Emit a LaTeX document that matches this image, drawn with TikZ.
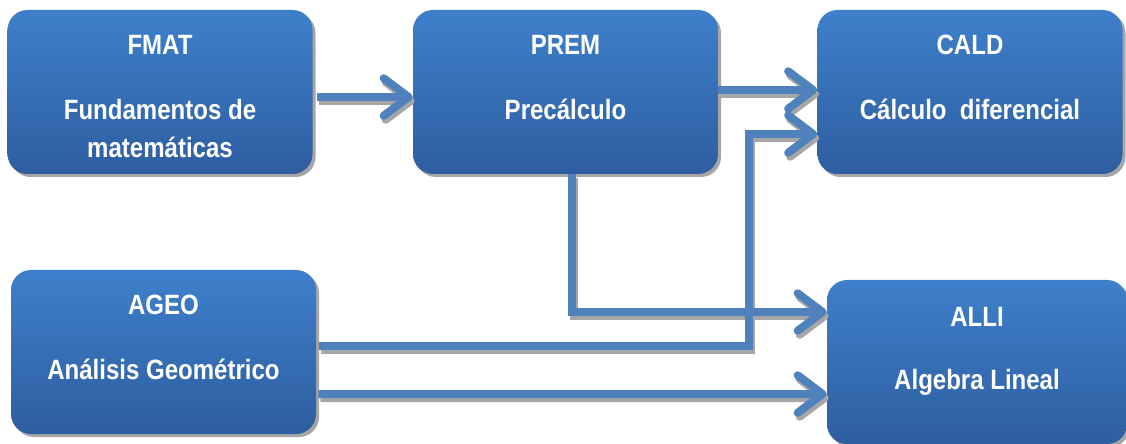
\documentclass[tikz,border=0pt]{standalone}
\usepackage{fontspec}
\setmainfont[FakeStretch=0.86]{Liberation Sans}
\usetikzlibrary{arrows.meta,shadows}
\definecolor{boxtop}{RGB}{62,127,203}
\definecolor{boxbot}{RGB}{46,94,160}
\definecolor{linkblue}{RGB}{79,129,189}
\definecolor{linkshade}{RGB}{166,166,166}
\tikzset{
	course/.style={rounded corners=0.4cm, minimum width=6.1cm, minimum height=3.28cm, top color=boxtop, bottom color=boxbot, draw=none,
		drop shadow={shadow xshift=0.06cm, shadow yshift=-0.06cm, fill=linkshade, opacity=1}},
	coursetxt/.style={text=white, font=\fontsize{15.9}{21.6}\selectfont\bfseries, align=center, inner sep=0pt, anchor=base},
	link/.style={line width=0.16cm, -{Straight Barb[length=0.5cm, width=0.75cm, round]}},
}
\newcommand{\drawlinks}[1]{
	\draw[link,#1] ([shift={(0.08,-0.1)}]fmat.east) -- ([yshift=-0.1cm]prem.west);
	\draw[link,#1] ([yshift=0.04cm]prem.east) -- ([yshift=0.04cm]cald.west);
	\draw[link,#1] ([xshift=0.13cm]prem.south) |- ([yshift=1cm]alli.west);
	\draw[link,#1] ([shift={(0.06,0.12)}]ageo.east) -| (riser |- cald-in) -- (cald-in);
	\draw[link,#1] ([shift={(0.04,-0.84)}]ageo.east) -- ([yshift=-0.64cm]alli.west);
}

\begin{document}
\begin{tikzpicture}
	\useasboundingbox (0,0) rectangle (22.52,8.86);
	\node[course] (fmat) at (3.2,7.02) {};
	\node[course] (prem) at (11.31,7.02) {};
	\node[course] (cald) at (19.4,7.02) {};
	\node[course] (ageo) at (3.27,1.82) {};
	\node[course, minimum width=6cm] (alli) at (19.54,1.62) {};

	\node[coursetxt] (fmat-t) at ([yshift=-0.9cm]fmat.north) {FMAT};
	\node[coursetxt] (fmat-s) at ([yshift=-2.96cm]fmat.north) {Fundamentos de\\matemáticas};
	\node[coursetxt] (prem-t) at ([yshift=-0.9cm]prem.north) {PREM};
	\node[coursetxt] (prem-s) at ([yshift=-2.2cm]prem.north) {Precálculo};
	\node[coursetxt] (cald-t) at ([yshift=-0.9cm]cald.north) {CALD};
	\node[coursetxt] (cald-s) at ([yshift=-2.2cm]cald.north) {Cálculo\ \ diferencial};
	\node[coursetxt] (ageo-t) at ([yshift=-0.9cm]ageo.north) {AGEO};
	\node[coursetxt] (ageo-s) at ([yshift=-2.2cm]ageo.north) {Análisis Geométrico};
	\node[coursetxt] (alli-t) at ([yshift=-0.94cm]alli.north) {ALLI};
	\node[coursetxt] (alli-s) at ([yshift=-2.2cm]alli.north) {Algebra Lineal};

	\coordinate (riser) at (14.98,0);
	\coordinate (cald-in) at ([yshift=-0.84cm]cald.west);

	\begin{scope}[transform canvas={shift={(0.04,-0.08)}}]
		\drawlinks{linkshade}
	\end{scope}
	\drawlinks{linkblue}
\end{tikzpicture}
\end{document}
